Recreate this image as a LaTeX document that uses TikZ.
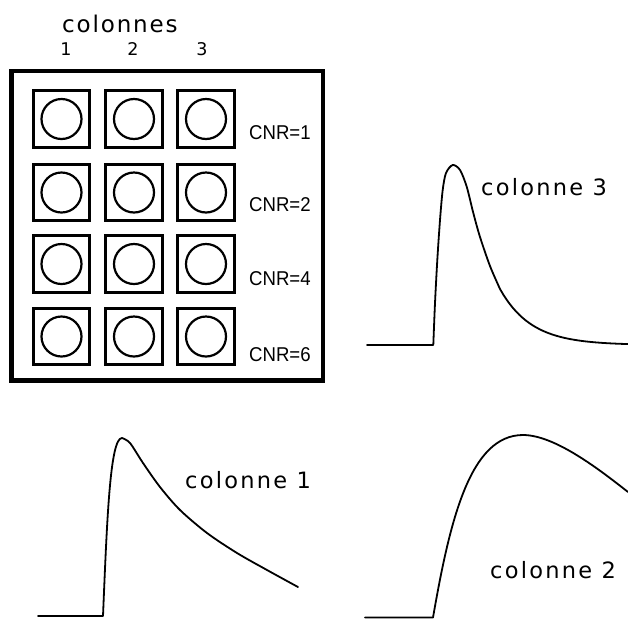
\documentclass[tikz,border=0pt]{standalone}
\usepackage{fontspec}
\setmainfont{DejaVu Sans}
\newfontfamily\labfont[LetterSpace=10]{DejaVu Sans}
\newfontfamily\headfont[LetterSpace=8]{DejaVu Sans}
\newfontfamily\arialf[FakeStretch=0.93]{Liberation Sans}
\begin{document}
\begin{tikzpicture}[x=1pt,y=-1pt,
  cell/.style={draw, line width=2.6pt, minimum size=56.5pt, inner sep=0pt},
  well/.style={draw, circle, line width=2.2pt, minimum size=40pt, inner sep=0pt},
  cnr/.style={font=\arialf\fontsize{20}{22}\selectfont, anchor=base west, inner sep=0pt},
  lab/.style={font=\labfont\fontsize{22.5}{26}\selectfont, anchor=base west, inner sep=0pt},
  head/.style={font=\headfont\fontsize{23}{27}\selectfont, anchor=base west, inner sep=0pt},
  num/.style={font=\fontsize{17.5}{20}\selectfont, anchor=base, inner sep=0pt},
  curve/.style={line width=1.8pt, line join=round, line cap=round}]
\useasboundingbox (0,0) rectangle (628,619);
% plate
\draw[line width=4.2pt] (11.5,71) rectangle (323,380.5);
\node[head] (hd) at (62,32) {colonnes};
\node[num] (n1) at (66,55) {1};
\node[num] (n2) at (133,55) {2};
\node[num] (n3) at (202,55) {3};
\foreach \r/\y in {1/119,2/192.5,3/264,4/336.5}{
  \foreach \c/\x in {1/61.5,2/134,3/206}{
    \node[cell] (s\r\c) at (\x,\y) {};
    \node[well] (w\r\c) at (\x,\y) {};
  }
}
\node[cnr] (c1) at (249,139) {CNR=1};
\node[cnr] (c2) at (249,211) {CNR=2};
\node[cnr] (c4) at (249,285) {CNR=4};
\node[cnr] (c6) at (249,361) {CNR=6};
% colonne 3
\draw[curve] (367,345) -- plot[smooth, tension=0.5] coordinates {(433.3,345) (435,303) (437.3,260) (440,220) (442.7,190) (446,173) (452.7,165) (460,170) (466.7,186.7) (473.3,213) (480,237) (490,266) (500,289)}
  -- plot[domain=500:628, samples=40] (\x, {345-56*exp(-0.032*(\x-500))});
\node[lab] (l3) at (481,195) {colonne 3};
% colonne 1
\draw[curve] (38,616) -- (103,616) .. controls (107,520) and (110,438) .. (122,438)
  -- plot[smooth, tension=0.5] coordinates {(122,438) (130,443) (143,463) (160,487) (180,510) (207,533) (237,553) (267,570) (298,587)};
\node[lab] (l1) at (185,488) {colonne 1};
% colonne 2
\draw[curve] (365,617.5) -- (433,617.5) .. controls (450,520) and (470,435) .. (523,435)
  .. controls (555,435) and (600,470) .. (628,492);
\node[lab] (l2) at (490,578) {colonne 2};
\end{tikzpicture}
\end{document}
